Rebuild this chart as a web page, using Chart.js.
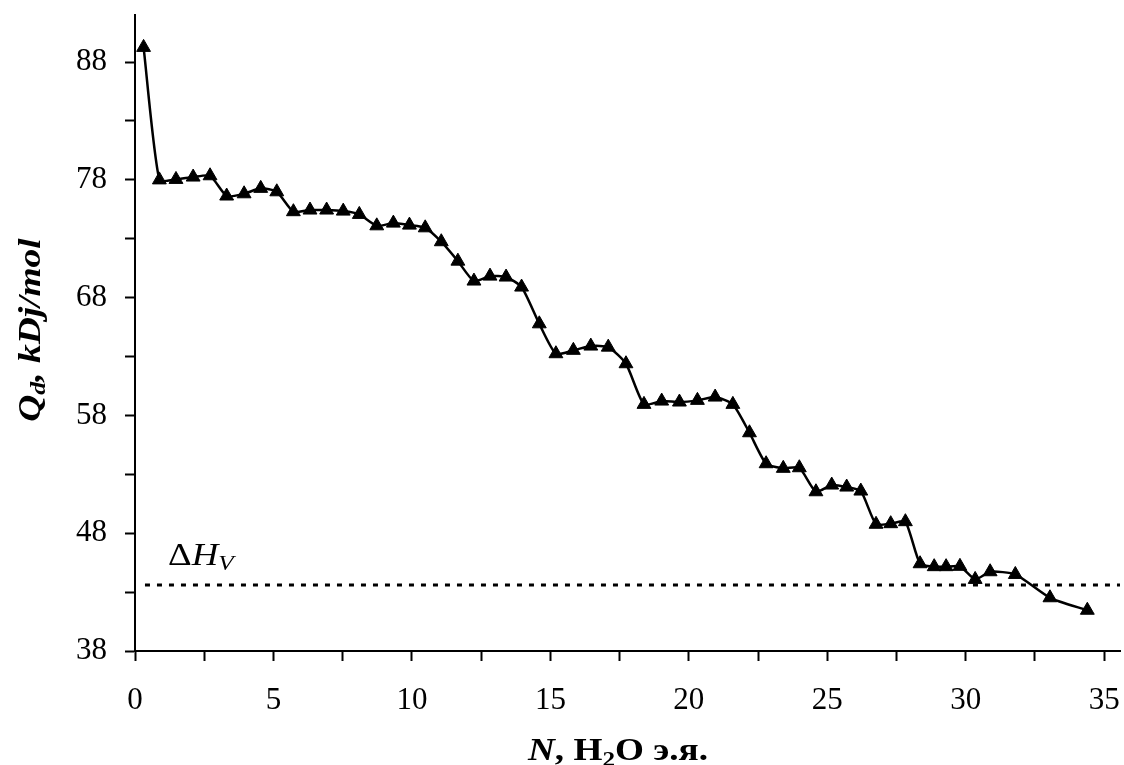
<!DOCTYPE html>
<html>
<head>
<meta charset="utf-8">
<script src="https://cdn.jsdelivr.net/npm/chart.js@4.4.1/dist/chart.umd.min.js"></script>
<style>
  html, body { margin: 0; padding: 0; background: #fff; }
  #wrap { width: 1124px; height: 765px; }
</style>
</head>
<body>
<div id="wrap"><canvas id="c" width="1124" height="765"></canvas></div>
<script>
// Number of adsorbed water molecules per exchange site
const nValues = [0.31, 0.88, 1.48, 2.10, 2.71, 3.31, 3.94, 4.54, 5.12, 5.72,
                 6.32, 6.92, 7.52, 8.10, 8.73, 9.33, 9.91, 10.48, 11.06, 11.66,
                 12.24, 12.82, 13.40, 13.96, 14.60, 15.20, 15.83, 16.46, 17.09, 17.73,
                 18.38, 19.02, 19.66, 20.31, 20.95, 21.59, 22.19, 22.79, 23.41, 23.99,
                 24.59, 25.16, 25.70, 26.21, 26.76, 27.29, 27.82, 28.35, 28.86, 29.29,
                 29.79, 30.34, 30.88, 31.79, 33.04, 34.39];
// Differential heat of adsorption, kJ/mol
const qValues = [89.25, 78.0, 78.04, 78.24, 78.35, 76.63, 76.82, 77.28, 76.99, 75.3,
                 75.44, 75.44, 75.35, 75.07, 74.1, 74.33, 74.16, 73.93, 72.75, 71.1,
                 69.41, 69.83, 69.75, 68.9, 65.78, 63.24, 63.53, 63.89, 63.8, 62.39,
                 58.94, 59.22, 59.14, 59.28, 59.56, 58.94, 56.53, 53.9, 53.51, 53.56,
                 51.52, 52.09, 51.92, 51.58, 48.76, 48.81, 48.98, 45.41, 45.16, 45.16,
                 45.19, 44.08, 44.73, 44.5, 42.52, 41.46];
// Heat of vaporization of water and the span of its reference line
const dhvLevel = 43.6;
const dhvSpan = [0.36, 35.57];

// Axis ticks
const xTicks = [0, 2.5, 5, 7.5, 10, 12.5, 15, 17.5, 20, 22.5, 25, 27.5, 30, 32.5, 35];
const xLabels = [0, 5, 10, 15, 20, 25, 30, 35];
const yTicks = [38, 43, 48, 53, 58, 63, 68, 73, 78, 83, 88];
const yLabels = [38, 48, 58, 68, 78, 88];
const xRange = [0, 35.57];
const yRange = [38, 92];

const SERIF = '"Liberation Serif", "Times New Roman", serif';

const points = nValues.map((n, i) => ({ x: n, y: qValues[i] }));
const dhvLine = dhvSpan.map(n => ({ x: n, y: dhvLevel }));

// Draws a run of text pieces with their own fonts and baseline shifts,
// optionally stretched along the writing direction
function drawRuns(ctx, runs, x, y, align, stretch) {
  const sx = stretch || 1;
  let total = 0;
  runs.forEach(r => { ctx.font = r.font; r.w = ctx.measureText(r.text).width; total += r.w; });
  ctx.save();
  ctx.translate(x, y);
  ctx.scale(sx, 1);
  let cx = align === 'center' ? -total / 2 : 0;
  runs.forEach(r => {
    ctx.font = r.font;
    ctx.fillText(r.text, cx, r.dy || 0);
    cx += r.w;
  });
  ctx.restore();
}

const titlesPlugin = {
  id: 'titles',
  afterDraw(chart) {
    const ctx = chart.ctx;
    ctx.save();
    ctx.fillStyle = '#000';
    ctx.textBaseline = 'alphabetic';
    ctx.textAlign = 'left';

    // x axis title
    drawRuns(ctx, [
      { text: 'N', font: 'italic bold 31px ' + SERIF },
      { text: ', H', font: 'bold 31px ' + SERIF },
      { text: '2', font: 'bold 21px ' + SERIF, dy: 6 },
      { text: 'O э.я.', font: 'bold 31px ' + SERIF }
    ], 618, 760, 'center', 1.2);

    // y axis title
    ctx.save();
    ctx.translate(40, 330);
    ctx.rotate(-Math.PI / 2);
    drawRuns(ctx, [
      { text: 'Q', font: 'italic bold 32px ' + SERIF },
      { text: 'd', font: 'italic bold 22px ' + SERIF, dy: 5 },
      { text: ', kDj/mol', font: 'italic bold 32px ' + SERIF }
    ], 0, 0, 'center', 1.17);
    ctx.restore();

    // label of the vaporization line
    drawRuns(ctx, [
      { text: 'Δ', font: '32px ' + SERIF },
      { text: 'H', font: 'italic 32px ' + SERIF },
      { text: 'V', font: 'italic 22px ' + SERIF, dy: 5 }
    ], 168, 565, 'left', 1.15);
    ctx.restore();
  }
};

new Chart(document.getElementById('c'), {
  type: 'scatter',
  data: {
    datasets: [
      {
        data: points,
        showLine: true,
        borderColor: '#000',
        borderWidth: 2.5,
        tension: 0.2,
        pointStyle: 'triangle',
        pointRadius: 8,
        pointHoverRadius: 8,
        pointBackgroundColor: '#000',
        pointBorderColor: '#000',
        pointBorderWidth: 1,
        clip: false
      },
      {
        data: dhvLine,
        showLine: true,
        borderColor: '#000',
        borderWidth: 3,
        borderDash: [5, 7],
        pointRadius: 0,
        pointHoverRadius: 0,
        tension: 0
      }
    ]
  },
  options: {
    responsive: false,
    animation: false,
    devicePixelRatio: 1,
    layout: { autoPadding: false, padding: { top: 15, right: 4, left: 0, bottom: 0 } },
    plugins: { legend: { display: false }, tooltip: { enabled: false } },
    events: [],
    scales: {
      x: {
        type: 'linear',
        min: xRange[0],
        max: xRange[1],
        afterBuildTicks: s => { s.ticks = xTicks.map(v => ({ value: v })); },
        afterFit: s => { s.height = 114; s.paddingLeft = 0; s.paddingRight = 0; },
        ticks: {
          autoSkip: false,
          maxRotation: 0,
          padding: 21,
          color: '#000',
          font: { family: SERIF, size: 31 },
          callback: v => (xLabels.includes(v) ? String(v) : '')
        },
        grid: { drawOnChartArea: false, tickLength: 10, tickWidth: 2, tickColor: '#000' },
        border: { color: '#000', width: 2 }
      },
      y: {
        type: 'linear',
        min: yRange[0],
        max: yRange[1],
        afterBuildTicks: s => { s.ticks = yTicks.map(v => ({ value: v })); },
        afterFit: s => { s.width = 135; s.paddingTop = 0; s.paddingBottom = 0; },
        ticks: {
          autoSkip: false,
          padding: 18,
          color: '#000',
          font: { family: SERIF, size: 31 },
          callback: v => (yLabels.includes(v) ? String(v) : '')
        },
        grid: { drawOnChartArea: false, tickLength: 10, tickWidth: 2, tickColor: '#000' },
        border: { color: '#000', width: 2 }
      }
    }
  },
  plugins: [titlesPlugin]
});
</script>
</body>
</html>
